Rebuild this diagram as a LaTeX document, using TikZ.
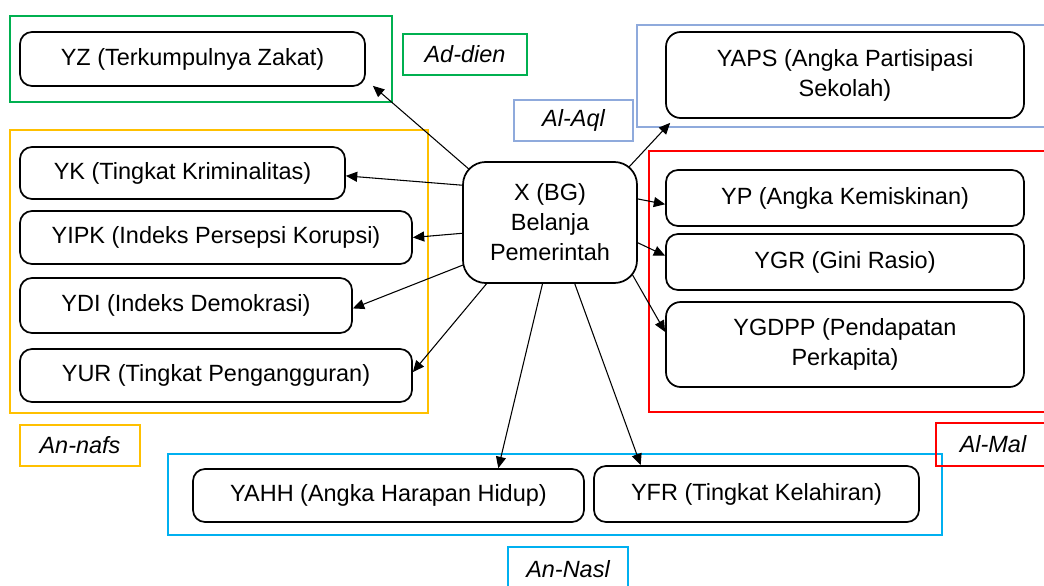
\documentclass[tikz,border=0pt]{standalone}
\usepackage{fontspec}
\setmainfont{Liberation Sans}
\usetikzlibrary{arrows.meta,calc}
\definecolor{cgreen}{HTML}{00B050}
\definecolor{cblue}{HTML}{8FAADC}
\definecolor{cred}{HTML}{FF0000}
\definecolor{cyellow}{HTML}{FFC000}
\definecolor{ccyan}{HTML}{00B0F0}
\pgfdeclarelayer{frames}
\pgfdeclarelayer{links}
\pgfsetlayers{frames,links,main}
\tikzset{
  varbox/.style={draw, line width=1.3pt, rounded corners=9pt, fill=white, inner sep=0pt,
    align=center, font=\fontsize{17.6pt}{22.5pt}\selectfont},
  groupframe/.style={line width=1.3pt},
  grouplabel/.style={draw, line width=1.3pt, inner sep=0pt, minimum width=90pt, minimum height=30.75pt,
    font=\fontsize{17.6pt}{22pt}\selectfont\itshape},
  arr/.style={-{Triangle[length=8.5pt,width=7.5pt]}, line width=0.8pt, shorten <=-12pt},
}
\begin{document}
\begin{tikzpicture}[x=0.75pt,y=-0.75pt]
\useasboundingbox (0,0) rectangle (1044,585);

% variable boxes
\node[varbox, minimum width=258.75pt, minimum height=40.5pt] (YZ) at (192.5,59) {YZ (Terkumpulnya Zakat)};
\node[varbox, minimum width=243.75pt, minimum height=39pt] (YK) at (182.5,173) {YK (Tingkat Kriminalitas)};
\node[varbox, minimum width=294pt, minimum height=39.75pt] (YIPK) at (216,237.5) {YIPK (Indeks Persepsi Korupsi)};
\node[varbox, minimum width=249pt, minimum height=41.25pt] (YDI) at (186,305.5) {YDI (Indeks Demokrasi)};
\node[varbox, minimum width=294pt, minimum height=39.75pt] (YUR) at (216,375.5) {YUR (Tingkat Pengangguran)};
\node[varbox, rounded corners=17pt, minimum width=130.5pt, minimum height=90.75pt] (X) at (550,222.5) {X (BG)\\Belanja\\Pemerintah};
\node[varbox, rounded corners=11pt, minimum width=268.5pt, minimum height=64.5pt] (YAPS) at (845,75) {YAPS (Angka Partisipasi\\Sekolah)};
\node[varbox, minimum width=268.5pt, minimum height=42pt] (YP) at (845,198) {YP (Angka Kemiskinan)};
\node[varbox, minimum width=268.5pt, minimum height=42pt] (YGR) at (845,262) {YGR (Gini Rasio)};
\node[varbox, rounded corners=11pt, minimum width=268.5pt, minimum height=63.75pt] (YGDPP) at (845,344.5) {YGDPP (Pendapatan\\Perkapita)};
\node[varbox, minimum width=293.25pt, minimum height=39.75pt] (YAHH) at (388.5,495.5) {YAHH (Angka Harapan Hidup)};
\node[varbox, minimum width=243.75pt, minimum height=42pt] (YFR) at (756.5,494) {YFR (Tingkat Kelahiran)};

% group labels
\node[grouplabel, draw=cgreen, minimum width=93pt] (Ldien) at (465,54.5) {Ad-dien};
\node[grouplabel, draw=cblue, minimum width=89.25pt] (Laql) at (573.5,120.5) {Al-Aql};
\node[grouplabel, draw=cyellow] (Lnafs) at (80,445.5) {An-nafs};
\node[grouplabel, draw=cred, minimum width=85.5pt, minimum height=32.25pt] (Lmal) at (993,444.5) {Al-Mal};
\node[grouplabel, draw=ccyan, minimum height=33.75pt] (Lnasl) at (568,569.5) {An-Nasl};

% group frames
\begin{pgfonlayer}{frames}
\draw[groupframe, cgreen] (10,16) rectangle (392,102);
\draw[groupframe, cblue] (637,25) rectangle (1050,127);
\draw[groupframe, cred] (649,151) rectangle (1050,412);
\draw[groupframe, cyellow] (10,130) rectangle (428,413);
\draw[groupframe, ccyan] (168,454) rectangle (942,535);
\end{pgfonlayer}

% connectors
\begin{pgfonlayer}{links}
\draw[arr] (X.146.7) -- ($(YZ.south east)+(7,-1)$);
\draw[arr] (X.157.3) -- (YK.-1.4);
\draw[arr] (X.187.7) -- (YIPK.east);
\draw[arr] (X.206.6) -- (YDI.-1);
\draw[arr] (X.224.8) -- (YUR.1.6);
\draw[arr] (X.263.4) -- (YAHH.14);
\draw[arr] (X.292.5) -- (YFR.166.9);
\draw[arr] (X.36.3) -- ($(YAPS.south west)+(5,4)$);
\draw[arr] (X.15.1) -- (YP.182.2);
\draw[arr] (X.347.4) -- (YGR.178.1);
\draw[arr] (X.325.7) -- (YGDPP.176);
\end{pgfonlayer}
\end{tikzpicture}
\end{document}
